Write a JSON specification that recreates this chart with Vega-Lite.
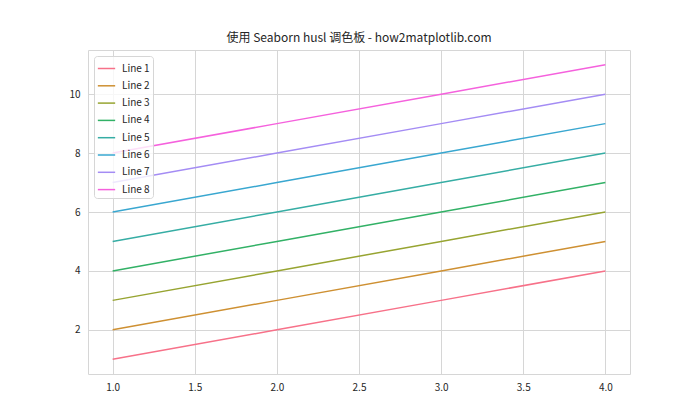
{
  "$schema": "https://vega.github.io/schema/vega-lite/v6.json",
  "width": 542,
  "height": 324,
  "autosize": {"type": "none"},
  "padding": {"left": 88, "top": 50, "right": 70, "bottom": 46},
  "title": {
    "text": "使用 Seaborn husl 调色板 - how2matplotlib.com",
    "fontSize": 12,
    "fontWeight": "normal",
    "font": "Noto Sans CJK SC",
    "color": "#262626",
    "offset": 5
  },
  "config": {
    "font": "Noto Sans CJK SC",
    "view": {"stroke": "#d6d6d6", "strokeWidth": 1}
  },
  "data": {
    "values": [
      {"x": 1, "y": 1, "series": "Line 1"}, {"x": 2, "y": 2, "series": "Line 1"}, {"x": 3, "y": 3, "series": "Line 1"}, {"x": 4, "y": 4, "series": "Line 1"},
      {"x": 1, "y": 2, "series": "Line 2"}, {"x": 2, "y": 3, "series": "Line 2"}, {"x": 3, "y": 4, "series": "Line 2"}, {"x": 4, "y": 5, "series": "Line 2"},
      {"x": 1, "y": 3, "series": "Line 3"}, {"x": 2, "y": 4, "series": "Line 3"}, {"x": 3, "y": 5, "series": "Line 3"}, {"x": 4, "y": 6, "series": "Line 3"},
      {"x": 1, "y": 4, "series": "Line 4"}, {"x": 2, "y": 5, "series": "Line 4"}, {"x": 3, "y": 6, "series": "Line 4"}, {"x": 4, "y": 7, "series": "Line 4"},
      {"x": 1, "y": 5, "series": "Line 5"}, {"x": 2, "y": 6, "series": "Line 5"}, {"x": 3, "y": 7, "series": "Line 5"}, {"x": 4, "y": 8, "series": "Line 5"},
      {"x": 1, "y": 6, "series": "Line 6"}, {"x": 2, "y": 7, "series": "Line 6"}, {"x": 3, "y": 8, "series": "Line 6"}, {"x": 4, "y": 9, "series": "Line 6"},
      {"x": 1, "y": 7, "series": "Line 7"}, {"x": 2, "y": 8, "series": "Line 7"}, {"x": 3, "y": 9, "series": "Line 7"}, {"x": 4, "y": 10, "series": "Line 7"},
      {"x": 1, "y": 8, "series": "Line 8"}, {"x": 2, "y": 9, "series": "Line 8"}, {"x": 3, "y": 10, "series": "Line 8"}, {"x": 4, "y": 11, "series": "Line 8"}
    ]
  },
  "mark": {"type": "line", "strokeWidth": 1.5},
  "encoding": {
    "x": {
      "field": "x",
      "type": "quantitative",
      "scale": {"domain": [0.85, 4.15], "nice": false, "zero": false},
      "axis": {
        "title": null,
        "values": [1, 1.5, 2, 2.5, 3, 3.5, 4],
        "format": ".1f",
        "domain": false,
        "ticks": false,
        "labelPadding": 8,
        "labelFontSize": 10,
        "labelColor": "#262626",
        "gridColor": "#d6d6d6",
        "gridOpacity": 1
      }
    },
    "y": {
      "field": "y",
      "type": "quantitative",
      "scale": {"domain": [0.5, 11.5], "nice": false, "zero": false},
      "axis": {
        "title": null,
        "values": [2, 4, 6, 8, 10],
        "domain": false,
        "ticks": false,
        "labelPadding": 8,
        "labelFontSize": 10,
        "labelColor": "#262626",
        "gridColor": "#d6d6d6",
        "gridOpacity": 1
      }
    },
    "color": {
      "field": "series",
      "type": "nominal",
      "scale": {
        "domain": ["Line 1", "Line 2", "Line 3", "Line 4", "Line 5", "Line 6", "Line 7", "Line 8"],
        "range": ["#f77189", "#ce9032", "#97a431", "#32b166", "#36ada4", "#39a7d0", "#a48cf4", "#f561dd"]
      },
      "legend": {
        "title": null,
        "orient": "top-left",
        "offset": 6,
        "padding": 3,
        "fillColor": "rgba(255,255,255,0.8)",
        "strokeColor": "#d6d6d6",
        "cornerRadius": 3,
        "symbolType": "stroke",
        "symbolSize": 300,
        "symbolStrokeWidth": 1.5,
        "labelFontSize": 10,
        "labelColor": "#262626",
        "rowPadding": 2.3,
        "labelOffset": 6
      }
    }
  }
}
